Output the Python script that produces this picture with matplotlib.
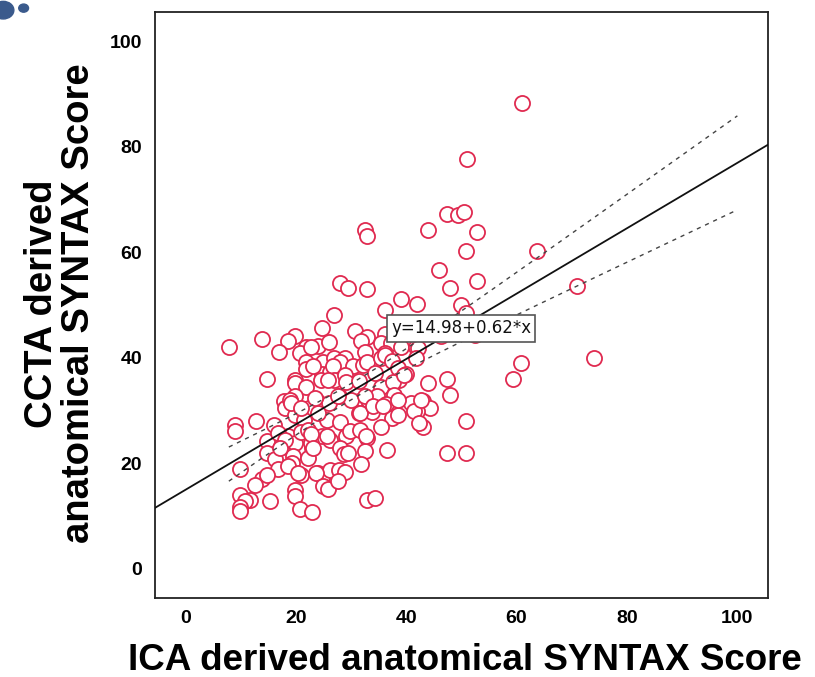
import numpy as np
import matplotlib
matplotlib.use("Agg")
import matplotlib.pyplot as plt
from matplotlib.patches import Circle

plt.rcParams['font.family'] = ['Liberation Sans', 'DejaVu Sans']

# ICA derived anatomical SYNTAX score (x) and CCTA derived score (y)
ica_upper = [61.0, 51.0, 47.4, 49.4, 50.5, 32.5, 33.0, 43.9, 52.9, 50.9, 63.8, 45.9, 52.9,
             47.9, 28.0, 29.4, 32.9, 70.9, 49.9, 39.0, 36.1, 41.9, 27.0, 50.8, 52.4, 46.4]
ccta_upper = [88.3, 77.7, 67.2, 67.1, 67.7, 64.3, 63.1, 64.2, 63.8, 60.2, 60.2, 56.6, 54.6,
              53.2, 54.3, 53.2, 53.1, 53.7, 50.1, 51.1, 49.1, 50.2, 48.1, 48.5, 44.3, 44.2]

ica_b = [24.8, 30.8, 33.0, 31.9, 36.1, 37.9, 39.4, 19.9, 18.6, 13.9, 7.9, 21.9, 24.0, 26.0,
         16.9, 20.8, 22.8, 35.5, 37.3, 39.1, 41.8, 32.5, 36.2, 42.2]
ccta_b = [45.7, 45.2, 44.0, 43.3, 44.5, 43.4, 43.0, 44.2, 43.2, 43.6, 42.0, 42.1, 42.3, 43.1,
          41.1, 41.0, 42.1, 42.8, 42.8, 42.1, 42.1, 41.1, 40.9, 41.9]

ica_c = [21.9, 24.9, 27.0, 29.0, 28.0, 21.9, 24.8, 26.3, 26.8, 23.1, 30.4, 32.2, 33.0, 35.4,
         36.1, 37.5, 38.5, 41.8, 60.9, 74.0, 14.9, 19.9, 19.9, 27.0, 28.9, 29.1, 31.5, 34.4,
         38.7, 39.9, 47.5, 59.4, 21.9, 24.6, 25.9, 43.9, 35.4, 37.6, 39.7]
ccta_c = [39.2, 39.2, 40.0, 40.0, 39.2, 38.0, 37.0, 37.4, 38.4, 38.4, 38.4, 38.7, 39.2, 40.0,
          40.5, 39.5, 38.1, 40.0, 39.0, 40.0, 36.0, 35.9, 35.2, 35.9, 36.8, 35.5, 35.6, 37.2,
          35.9, 37.0, 36.1, 36.1, 34.5, 35.8, 35.8, 35.2, 34.4, 35.5, 36.8]

ica_d = [17.9, 18.0, 19.9, 19.0, 23.9, 22.5, 26.0, 27.9, 31.4, 33.1, 34.7, 37.9, 36.4, 43.1,
         44.4, 41.9, 47.9, 19.9, 21.6, 25.6, 28.0, 31.4, 33.9, 37.5, 38.6, 12.9, 16.0, 9.0,
         9.0, 35.4, 43.0, 50.9, 24.0, 19.2, 21.0, 23.5, 30.1, 32.5, 40.9, 38.5, 31.6, 34.0,
         35.8, 41.5, 42.7, 27.7, 42.4]
ccta_d = [31.9, 30.6, 32.8, 32.1, 31.9, 30.6, 31.5, 32.8, 31.9, 32.1, 32.8, 33.0, 31.3, 31.9,
          30.5, 30.0, 33.0, 29.2, 28.3, 28.2, 27.9, 29.5, 29.8, 28.7, 29.2, 28.0, 27.2, 27.3,
          26.1, 27.0, 27.0, 28.0, 29.5, 31.4, 30.5, 32.4, 32.1, 32.7, 31.4, 32.1, 29.6, 30.8,
          30.8, 29.9, 32.1, 32.7, 27.7]

ica_e = [14.9, 18.6, 19.9, 20.9, 24.8, 26.2, 29.1, 29.9, 31.7, 33.0, 22.9, 28.0, 28.8, 32.5,
         14.8, 16.3, 19.6, 19.3, 31.9, 47.5, 50.9, 9.9, 16.8, 20.9, 24.0, 24.9, 26.2, 27.9,
         29.0, 13.9, 14.9, 12.6, 16.8, 18.0, 17.1, 22.2, 22.8, 18.6, 20.4, 22.2, 22.8, 25.6,
         23.1, 29.5, 23.7, 25.0, 25.9, 27.7, 32.8, 36.5]
ccta_e = [24.2, 25.3, 23.8, 25.9, 25.3, 24.5, 25.3, 26.1, 26.4, 24.9, 22.9, 22.9, 21.7, 22.4,
          21.9, 20.8, 21.5, 20.0, 19.9, 22.0, 22.0, 18.9, 18.9, 17.9, 18.1, 17.8, 18.8, 18.8,
          18.4, 17.0, 17.9, 15.9, 25.8, 24.5, 23.0, 26.4, 23.9, 19.5, 18.2, 21.1, 25.5, 25.2,
          23.0, 22.0, 18.2, 15.7, 15.1, 16.7, 25.2, 22.6]

ica_f = [19.9, 19.9, 9.9, 11.7, 10.8, 9.9, 9.9, 15.4, 20.8, 22.9, 33.0, 34.4]
ccta_f = [14.9, 13.8, 14.0, 13.1, 12.8, 11.8, 10.9, 12.9, 11.3, 10.8, 13.0, 13.4]

intercept = 14.98
slope = 0.62
equation_label = "y=14.98+0.62*x"
x_ticks = [0, 20, 40, 60, 80, 100]
y_ticks = [0, 20, 40, 60, 80, 100]

x = np.array(ica_upper + ica_b + ica_c + ica_d + ica_e + ica_f)
y = np.array(ccta_upper + ccta_b + ccta_c + ccta_d + ccta_e + ccta_f)

fig = plt.figure(figsize=(8.15, 6.77), dpi=100)
ax = fig.add_axes([0.190, 0.1167, 0.752, 0.865])

ax.scatter(x, y, s=118, facecolors='white', edgecolors='#e02a50', linewidths=1.3, zorder=3)

xlim = (-5.5, 105.5)
ylim = (-5.5, 105.5)
xx = np.linspace(xlim[0], xlim[1], 200)
ax.plot(xx, intercept + slope * xx, color='#111111', lw=1.3, zorder=4)

# 95% confidence band of the mean prediction
n = len(x)
resid = y - (intercept + slope * x)
s = np.sqrt(np.sum(resid ** 2) / (n - 2))
xbar = x.mean()
sxx = np.sum((x - xbar) ** 2)
xc = np.linspace(x.min(), 100, 200)
hw = 1.97 * s * np.sqrt(1.0 / n + (xc - xbar) ** 2 / sxx)
yc = intercept + slope * xc
ax.plot(xc, yc + hw, color='#444444', lw=1.0, ls=(0, (3, 3.5)), zorder=4)
ax.plot(xc, yc - hw, color='#444444', lw=1.0, ls=(0, (3, 3.5)), zorder=4)

ax.text(37.3, 45.6, equation_label, fontsize=12, family='DejaVu Sans', color='#111111',
        ha='left', va='center', zorder=6,
        bbox=dict(boxstyle='square,pad=0.25', fc='white', ec='#555555', lw=1.2))

ax.set_xlim(*xlim)
ax.set_ylim(*ylim)
ax.set_xticks(x_ticks)
ax.set_yticks(y_ticks)
ax.tick_params(length=0, labelsize=14, pad=9)
for lab in ax.get_xticklabels() + ax.get_yticklabels():
    lab.set_fontweight('bold')
for sp in ax.spines.values():
    sp.set_linewidth(1.3)
    sp.set_color('#222222')

fig.text(0.074, 0.552, "CCTA derived\nanatomical SYNTAX Score", rotation=90,
         ha='center', va='center', fontsize=27.5, fontweight='bold', linespacing=1.05,
         multialignment='center')
fig.text(0.571, 0.025, "ICA derived anatomical SYNTAX Score", ha='center', va='center',
         fontsize=26.5, fontweight='bold')

# small decorative remnants at the figure's top left corner
fig.patches.append(Circle((0.004, 0.985), 0.013, transform=fig.transFigure,
                          color='#3a5a8c', zorder=0))
fig.patches.append(Circle((0.029, 0.988), 0.006, transform=fig.transFigure,
                          color='#3a5a8c', zorder=0))

fig.savefig('out.png', dpi=100)
